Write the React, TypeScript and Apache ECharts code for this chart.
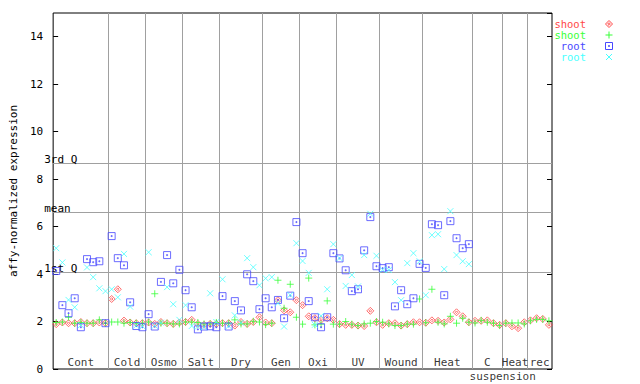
import React, { useEffect, useRef } from "react";
import * as echarts from "echarts";

const groupNames = ["Cont", "Cold", "Osmo", "Salt", "Dry", "Gen", "Oxi", "UV", "Wound", "Heat", "C", "Heat", "rec"];
const groupSizes = [9, 6, 6, 6, 7, 6, 6, 7, 7, 8, 5, 4, 4];
const subLabel = "suspension";
const subLabelAfterGroup = 10;

const quartileNames = ["3rd Q", "mean", "1st Q"];
const quartileValues = [8.68, 6.61, 4.08];

const seriesNames = ["shoot", "shoot", "root", "root"];
const seriesColors = ["#ff4848", "#38ff38", "#4848ff", "#48ffff"];

const shoot1 = [
  1.89, 1.96, 1.93, 1.93, 1.98, 1.93, 1.93, 1.96, 1.93,
  2.95, 3.36, 2.04, 1.96, 1.93, 1.93,
  1.96, 1.9, 1.98, 1.93, 1.9, 1.96,
  1.98, 2.07, 1.9, 1.86, 1.9, 1.9,
  1.93, 1.93, 1.83, 1.98, 1.9, 1.98, 2.18,
  1.96, 1.93, 2.9, 2.47, 2.39, 2.9,
  2.69, 2.22, 2.14, 2.07, 2.14, 2.07,
  1.89, 1.86, 1.86, 1.83, 1.81, 2.45, 1.97,
  1.86, 1.93, 1.93, 1.83, 1.89, 1.97, 1.97,
  1.95, 2.05, 2.03, 1.96, 2.09, 2.39, 2.22, 1.97,
  2.03, 2.03, 2.05, 1.93, 1.86,
  1.93, 1.8, 1.72, 1.97,
  2.05, 2.14, 2.11, 1.86,
];

const shoot2 = [
  1.96, 1.98, 2.18, 1.93, 1.96, 1.93, 1.93, 2.07, 1.93,
  1.98, 1.98, 1.93, 1.96, 1.93, 1.93,
  1.98, 3.17, 1.93, 1.93, 1.9, 1.9,
  1.98, 1.98, 1.96, 1.9, 1.9, 1.96,
  1.93, 1.93, 2.07, 1.9, 1.9, 2.01, 1.98,
  1.87, 1.93, 3.74, 2.56, 3.57, 2.18,
  1.89, 3.83, 1.86, 1.89, 2.87, 1.89,
  1.89, 2.0, 1.89, 1.83, 1.9, 1.93, 2.0,
  1.97, 1.9, 1.83, 1.83, 1.89, 1.89, 2.95,
  1.95, 3.36, 1.97, 1.9, 2.22, 1.93, 2.14, 1.97,
  1.94, 2.05, 1.97, 1.93, 1.83,
  1.93, 1.94, 1.94, 1.9,
  2.03, 2.09, 2.09, 2.03,
];

const root1 = [
  4.13, 2.69, 2.35, 2.98, 1.76, 4.63, 4.5, 4.54, 1.93,
  5.6, 4.67, 4.37, 2.81, 1.81, 1.76,
  2.31, 1.79, 3.67, 4.8, 3.61, 4.18,
  3.32, 2.6, 1.67, 1.79, 1.8, 1.76,
  3.07, 1.79, 2.86, 2.47, 3.99, 3.7, 2.52,
  2.98, 2.6, 2.91, 2.14, 3.09, 6.19,
  4.88, 2.86, 2.18, 1.76, 2.18, 4.88,
  4.66, 4.16, 3.28, 3.36, 5.0, 6.4, 4.33,
  4.25, 4.29, 2.64, 3.32, 2.73, 2.98, 4.43,
  4.26, 6.1, 6.06, 3.11, 6.23, 5.51, 5.09, 5.26,
  null, null, null, null, null,
  null, null, null, null,
  null, null, null, null,
];

const root2 = [
  5.09, 4.49, 2.91, 2.6, 1.85, 4.28, 3.87, 3.4, 3.28,
  3.36, 3.02, 4.85, 2.63, 1.83, 1.8,
  4.92, 1.82, 1.95, 3.45, 2.73, 2.07,
  2.69, 1.81, 1.79, 1.76, 3.19, 1.98,
  3.78, 1.81, 2.26, 1.95, 4.67, 4.29, 3.53,
  3.82, 3.87, 2.77, 1.79, 3.12, 5.3,
  4.55, 4.05, 1.86, 2.24, 3.36, 5.26,
  4.67, 3.5, 3.96, 3.48, 4.8, 6.54, 4.77,
  4.18, 4.17, 3.66, 2.9, 4.46, 4.88, 4.54,
  3.11, 5.64, 5.68, 4.21, 6.65, 4.8, 4.54, 4.42,
  null, null, null, null, null,
  null, null, null, null,
  null, null, null, null,
];

const FONT = '"DejaVu Sans Mono", monospace';

const symbolPaths = [
  "path://M3.5,0L7,3.5L3.5,7L0,3.5Z M3.5,2.2L4.8,3.5L3.5,4.8L2.2,3.5Z",
  "path://M0,3.5L7,3.5M3.5,0L3.5,7",
  "path://M0,0L7,0L7,7L0,7Z M3,3L4,3L4,4L3,4Z",
  "path://M0,0L6,6M0,6L6,0",
];
const symbolSizes = [7, 7, 7, 6];

export default function App() {
  const ref = useRef<HTMLDivElement>(null);

  useEffect(() => {
    const chart = echarts.init(ref.current!, null, { renderer: "svg" });

    const total = groupSizes.reduce((a, b) => a + b, 0);
    const starts: number[] = [];
    let acc = 0;
    groupSizes.forEach((s) => {
      starts.push(acc);
      acc += s;
    });
    const boundaries = starts.slice(1);
    const centers = groupSizes.map((s, k) => starts[k] + s / 2);

    const allSeries = [shoot1, shoot2, root1, root2];

    const dataSeries = allSeries.map((arr, k) => ({
      type: "scatter",
      name: seriesNames[k] + k,
      data: arr
        .map((v, i) => (v == null ? null : [i + 0.5, v]))
        .filter((d) => d !== null),
      symbol: symbolPaths[k],
      symbolSize: symbolSizes[k],
      itemStyle: { color: "transparent", borderColor: seriesColors[k], borderWidth: 1 },
      z: 3 + k,
      silent: true,
      clip: false,
    }));

    const legendRowY = [24, 35, 46, 57];
    const legendTextX = 586;
    const mx = 609;
    const legendGraphics: any[] = [];
    seriesNames.forEach((n, k) => {
      legendGraphics.push({
        type: "text",
        x: legendTextX,
        y: legendRowY[k],
        style: {
          text: n,
          fill: seriesColors[k],
          font: "10.5px " + FONT,
          lineHeight: 10,
          align: "right",
          verticalAlign: "middle",
        },
      });
    });
    const ly = legendRowY;
    legendGraphics.push({
      type: "polygon",
      shape: { points: [[mx, ly[0] - 3.5], [mx + 3.5, ly[0]], [mx, ly[0] + 3.5], [mx - 3.5, ly[0]]] },
      style: { fill: "none", stroke: seriesColors[0], lineWidth: 1 },
    });
    legendGraphics.push({
      type: "polygon",
      shape: { points: [[mx, ly[0] - 1.3], [mx + 1.3, ly[0]], [mx, ly[0] + 1.3], [mx - 1.3, ly[0]]] },
      style: { fill: "none", stroke: seriesColors[0], lineWidth: 1 },
    });
    legendGraphics.push({
      type: "line",
      shape: { x1: mx - 3.5, y1: ly[1], x2: mx + 3.5, y2: ly[1] },
      style: { stroke: seriesColors[1], lineWidth: 1 },
    });
    legendGraphics.push({
      type: "line",
      shape: { x1: mx, y1: ly[1] - 3.5, x2: mx, y2: ly[1] + 3.5 },
      style: { stroke: seriesColors[1], lineWidth: 1 },
    });
    legendGraphics.push({
      type: "rect",
      shape: { x: mx - 3.5, y: ly[2] - 3.5, width: 7, height: 7 },
      style: { fill: "none", stroke: seriesColors[2], lineWidth: 1 },
    });
    legendGraphics.push({
      type: "rect",
      shape: { x: mx - 0.5, y: ly[2] - 0.5, width: 1, height: 1 },
      style: { fill: "none", stroke: seriesColors[2], lineWidth: 1 },
    });
    legendGraphics.push({
      type: "line",
      shape: { x1: mx - 3, y1: ly[3] - 3, x2: mx + 3, y2: ly[3] + 3 },
      style: { stroke: seriesColors[3], lineWidth: 1 },
    });
    legendGraphics.push({
      type: "line",
      shape: { x1: mx - 3, y1: ly[3] + 3, x2: mx + 3, y2: ly[3] - 3 },
      style: { stroke: seriesColors[3], lineWidth: 1 },
    });

    const option: any = {
      animation: false,
      backgroundColor: "#ffffff",
      grid: {
        left: 44,
        right: 88,
        top: 13,
        bottom: 15,
        show: true,
        borderColor: "#000",
        borderWidth: 1,
        backgroundColor: "transparent",
      },
      xAxis: {
        type: "value",
        min: 0,
        max: total,
        axisLine: { show: false },
        axisTick: { show: false },
        axisLabel: { show: false },
        splitLine: { show: false },
      },
      yAxis: [
        {
          type: "value",
          min: 0,
          max: 15,
          interval: 2,
          position: "left",
          axisLine: { show: false },
          axisTick: { show: true, inside: true, length: 5, lineStyle: { color: "#000" } },
          axisLabel: { showMaxLabel: false, margin: 10, fontFamily: FONT, fontSize: 11, color: "#000" },
          splitLine: { show: false },
          name: "affy-normalized expression",
          nameLocation: "middle",
          nameGap: 27,
          nameTextStyle: { fontFamily: FONT, fontSize: 11, color: "#000" },
        },
        {
          type: "value",
          min: 0,
          max: 15,
          interval: 2,
          position: "right",
          axisLine: { show: false },
          axisTick: { show: true, inside: true, length: 5, lineStyle: { color: "#000" } },
          axisLabel: { show: false },
          splitLine: { show: false },
        },
      ],
      graphic: legendGraphics,
      series: [
        {
          type: "scatter",
          data: [],
          silent: true,
          z: 1,
          markLine: {
            silent: true,
            symbol: "none",
            animation: false,
            lineStyle: { color: "#a0a0a0", width: 1, type: "solid" },
            emphasis: { disabled: true },
            data: [
              ...boundaries.map((b) => ({ xAxis: b, label: { show: false } })),
              ...quartileValues.map((v, k) => ({
                yAxis: v,
                label: {
                  show: true,
                  formatter: quartileNames[k],
                  position: "insideStartTop",
                  distance: [1, 1],
                  offset: [-10, 3],
                  fontFamily: FONT,
                  fontSize: 11,
                  color: "#000",
                },
              })),
            ],
          },
        },
        ...dataSeries,
        {
          type: "scatter",
          data: centers.map((c, k) => [c, 0, groupNames[k]]),
          symbolSize: 0,
          silent: true,
          clip: false,
          z: 10,
          label: {
            show: true,
            position: "top",
            distance: 1,
            formatter: (p: any) => p.data[2],
            fontFamily: FONT,
            fontSize: 11,
            color: "#000",
          },
        },
        {
          type: "scatter",
          data: [[starts[subLabelAfterGroup] + groupSizes[subLabelAfterGroup], 0, subLabel]],
          symbolSize: 0,
          silent: true,
          clip: false,
          z: 10,
          label: {
            show: true,
            position: "bottom",
            distance: 2,
            formatter: (p: any) => p.data[2],
            fontFamily: FONT,
            fontSize: 11,
            color: "#000",
          },
        },
      ],
    };

    chart.setOption(option);
    return () => chart.dispose();
  }, []);

  return (
    <div
      ref={ref}
      style={{ position: "fixed", left: 0, top: 0, width: 640, height: 384 }}
    />
  );
}
